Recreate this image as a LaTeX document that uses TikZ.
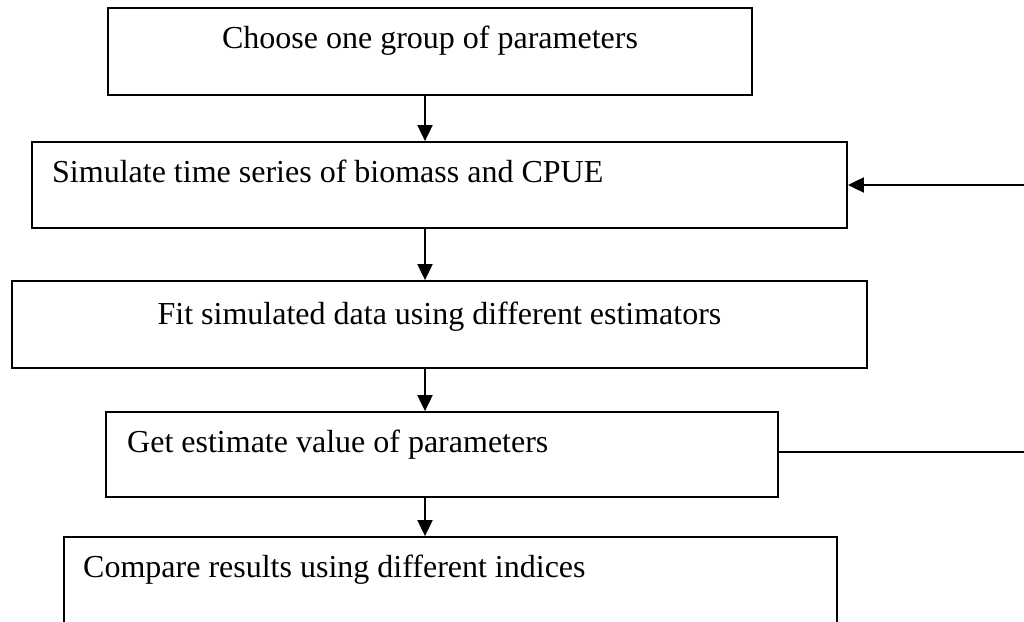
\documentclass[tikz,border=0pt]{standalone}
\usepackage{fontspec}
\setmainfont{Liberation Serif}
\usetikzlibrary{arrows.meta,positioning,calc}

\tikzset{
  stepbox/.style={draw, rectangle, line width=1.8pt, inner sep=0pt},
  steptext/.style={font=\fontsize{32}{38}\selectfont, inner sep=0pt},
  flow/.style={-{Triangle[length=16pt,width=15pt]}, line width=2pt},
}

\begin{document}
\begin{tikzpicture}[x=1pt, y=-1pt]
    \clip (0,0) rectangle (1024,621);

    % Boxes
    \node[stepbox, minimum width=644pt, minimum height=87pt] (choose) at (430,51.5) {};
    \node[stepbox, minimum width=815pt, minimum height=86pt] (simulate) at (439.5,185) {};
    \node[stepbox, minimum width=855pt, minimum height=87pt] (fit) at (439.5,324.5) {};
    \node[stepbox, minimum width=672pt, minimum height=85pt] (estimate) at (442,454.5) {};
    \node[stepbox, minimum width=773pt, minimum height=110pt] (compare) at (450.5,592) {};

    % Texts
    \node[steptext, anchor=base] (choosetext) at (430,48) {Choose one group of parameters};
    \node[steptext, anchor=base west] (simulatetext) at (52,182) {Simulate time series of biomass and CPUE};
    \node[steptext, anchor=base] (fittext) at (439.5,324) {Fit simulated data using different estimators};
    \node[steptext, anchor=base west] (estimatetext) at (127,452) {Get estimate value of parameters};
    \node[steptext, anchor=base west] (comparetext) at (83,577) {Compare results using different indices};

    % Main flow
    \coordinate (axis) at (425,0);
    \draw[flow] (axis |- choose.south) -- (axis |- simulate.north);
    \draw[flow] (axis |- simulate.south) -- (axis |- fit.north);
    \draw[flow] (axis |- fit.south) -- (axis |- estimate.north);
    \draw[flow] (axis |- estimate.south) -- (axis |- compare.north);

    % Loop back
    \coordinate (loop) at (1040,452);
    \draw[line width=1.4pt] (estimate.east |- loop) -- (loop);
    \draw[flow] (loop) -- (loop |- simulate.east) -- (simulate.east);
\end{tikzpicture}
\end{document}
